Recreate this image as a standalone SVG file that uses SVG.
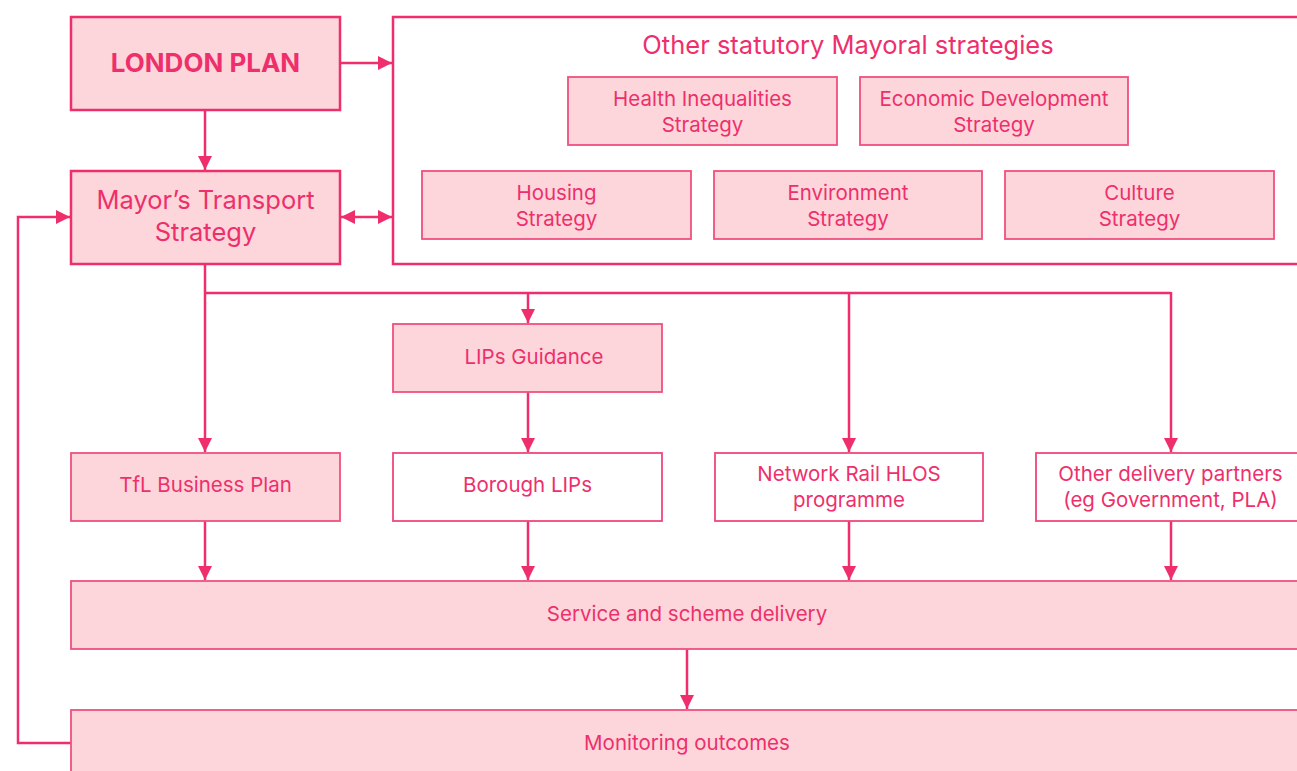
<svg xmlns="http://www.w3.org/2000/svg" width="1297" height="771" viewBox="0 0 1297 771">
<style>
.main{fill:#fcd6db;stroke:#ee2f6c;stroke-width:2.5}
.inner{fill:#fcd6db;stroke:#f0507f;stroke-width:1.8}
.white{fill:#ffffff;stroke:#f0477a;stroke-width:1.8}
.frame{fill:#ffffff;stroke:#ee2f6c;stroke-width:2.5}
text{font-family:Inter,Roboto,"Liberation Sans",sans-serif;fill:#ee2f6c;text-anchor:middle;font-size:20.5px}
.big{font-size:25.5px}
.title{font-size:25.5px}
.bold{font-size:26px;font-weight:bold}
.conn{fill:none;stroke:#ee2f6c;stroke-width:2.5}
</style>
<defs>
<marker id="ah" markerUnits="userSpaceOnUse" markerWidth="14" markerHeight="15" viewBox="0 0 14 15" refX="14" refY="7.5" orient="auto-start-reverse">
<path d="M0,0.5 L14,7.5 L0,14.5 Z" fill="#ee2f6c"/>
</marker>
</defs>
<rect width="1297" height="771" fill="#ffffff"/>
<g id="connectors">
<line class="conn" x1="340" y1="63" x2="392" y2="63" marker-end="url(#ah)"/>
<line class="conn" x1="205" y1="111" x2="205" y2="170" marker-end="url(#ah)"/>
<line class="conn" x1="341" y1="217" x2="392" y2="217" marker-start="url(#ah)" marker-end="url(#ah)"/>
<line class="conn" x1="205" y1="264" x2="205" y2="452" marker-end="url(#ah)"/>
<polyline class="conn" points="205,293 1171,293"/>
<line class="conn" x1="528" y1="293" x2="528" y2="323" marker-end="url(#ah)"/>
<line class="conn" x1="528" y1="392" x2="528" y2="452" marker-end="url(#ah)"/>
<line class="conn" x1="849" y1="293" x2="849" y2="452" marker-end="url(#ah)"/>
<line class="conn" x1="1171" y1="292" x2="1171" y2="452" marker-end="url(#ah)"/>
<line class="conn" x1="205" y1="521" x2="205" y2="580" marker-end="url(#ah)"/>
<line class="conn" x1="528" y1="521" x2="528" y2="580" marker-end="url(#ah)"/>
<line class="conn" x1="849" y1="521" x2="849" y2="580" marker-end="url(#ah)"/>
<line class="conn" x1="1171" y1="521" x2="1171" y2="580" marker-end="url(#ah)"/>
<line class="conn" x1="687" y1="649" x2="687" y2="709" marker-end="url(#ah)"/>
<polyline class="conn" points="71,743 18,743 18,217 70,217" marker-end="url(#ah)"/>
</g>
<g id="london-plan">
<rect class="main" x="71" y="17" width="269" height="93"/>
<text class="bold" x="205.5" y="72">LONDON PLAN</text>
</g>
<g id="mts">
<rect class="main" x="71" y="171" width="269" height="93"/>
<text class="big" x="205.5" y="209">Mayor’s Transport</text>
<text class="big" x="205.5" y="241">Strategy</text>
</g>
<g id="other-strategies">
<rect class="frame" x="393" y="17" width="912" height="247"/>
<text class="title" x="848" y="54">Other statutory Mayoral strategies</text>
</g>
<g id="health">
<rect class="inner" x="568" y="77" width="269" height="68"/>
<text x="702.5" y="106">Health Inequalities</text>
<text x="702.5" y="132">Strategy</text>
</g>
<g id="economic">
<rect class="inner" x="860" y="77" width="268" height="68"/>
<text x="994" y="106">Economic Development</text>
<text x="994" y="132">Strategy</text>
</g>
<g id="housing">
<rect class="inner" x="422" y="171" width="269" height="68"/>
<text x="556.5" y="200">Housing</text>
<text x="556.5" y="226">Strategy</text>
</g>
<g id="environment">
<rect class="inner" x="714" y="171" width="268" height="68"/>
<text x="848" y="200">Environment</text>
<text x="848" y="226">Strategy</text>
</g>
<g id="culture">
<rect class="inner" x="1005" y="171" width="269" height="68"/>
<text x="1139.5" y="200">Culture</text>
<text x="1139.5" y="226">Strategy</text>
</g>
<g id="lips-guidance">
<rect class="inner" x="393" y="324" width="269" height="68"/>
<text x="534" y="364">LIPs Guidance</text>
</g>
<g id="tfl-business-plan">
<rect class="inner" x="71" y="453" width="269" height="68"/>
<text x="205.5" y="492">TfL Business Plan</text>
</g>
<g id="borough-lips">
<rect class="white" x="393" y="453" width="269" height="68"/>
<text x="527.5" y="492">Borough LIPs</text>
</g>
<g id="network-rail">
<rect class="white" x="715" y="453" width="268" height="68"/>
<text x="849" y="481">Network Rail HLOS</text>
<text x="849" y="507">programme</text>
</g>
<g id="other-delivery">
<rect class="white" x="1036" y="453" width="269" height="68"/>
<text x="1170.5" y="481">Other delivery partners</text>
<text x="1170.5" y="507">(eg Government, PLA)</text>
</g>
<g id="service-delivery">
<rect class="inner" x="71" y="581" width="1234" height="68"/>
<text x="687" y="621">Service and scheme delivery</text>
</g>
<g id="monitoring">
<rect class="inner" x="71" y="710" width="1234" height="80"/>
<text x="687" y="750">Monitoring outcomes</text>
</g>
</svg>
